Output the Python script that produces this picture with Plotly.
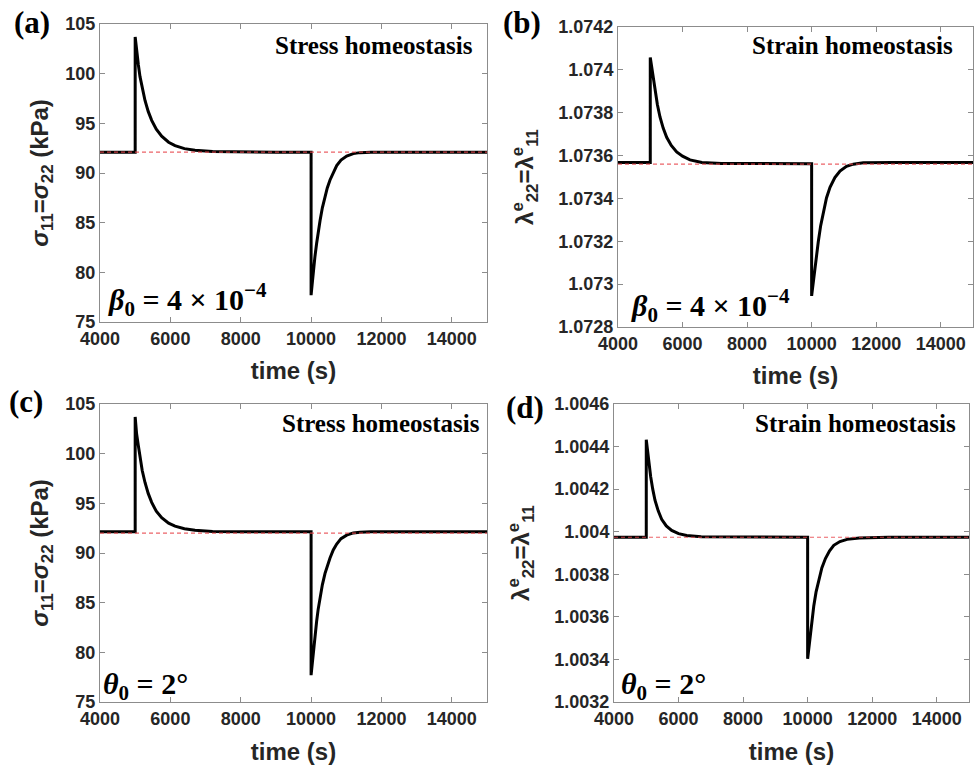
import plotly.graph_objects as go

W, H = 979, 767

# ---------------- data ----------------
# (a) stress homeostasis, beta_0 = 4e-4
t_a = [4000, 5000, 5000, 5040, 5090, 5137, 5200, 5279, 5370, 5469, 5600, 5753, 5950, 6132,
       6400, 6700, 7200, 8000, 9000, 10000, 10000, 10030, 10063, 10110, 10157, 10200, 10254,
       10320, 10396, 10460, 10538, 10630, 10728, 10850, 11012, 11200, 11390, 11700, 12500,
       14000, 15000]
s_a = [92.1, 92.1, 103.7, 102.1, 100.9, 99.7, 98.5, 97.3, 96.2, 95.3, 94.4, 93.7, 93.1, 92.75,
       92.45, 92.28, 92.16, 92.1, 92.1, 92.1, 77.7, 78.8, 80.2, 81.6, 82.9, 84.0, 85.2,
       86.5, 87.7, 88.5, 89.3, 90.1, 90.75, 91.3, 91.7, 91.95, 92.05, 92.1, 92.1,
       92.1, 92.1]
ref_a = 92.1

# (b) strain homeostasis, beta_0 = 4e-4
t_b = [4000, 5000, 5000, 5040, 5074, 5110, 5146, 5220, 5301, 5400, 5508, 5650, 5818, 6000,
       6231, 6600, 7200, 8000, 10000, 10000, 10050, 10103, 10150, 10206, 10280, 10361, 10460,
       10569, 10720, 10879, 11080, 11291, 11600, 12500, 15000]
l_b = [1.073568, 1.073568, 1.074058, 1.074015, 1.073982, 1.073940, 1.073902, 1.073838,
       1.073780, 1.073728, 1.073685, 1.073647, 1.073617, 1.073597, 1.073580, 1.073568,
       1.073563, 1.073562, 1.073562, 1.072945, 1.073010, 1.073075, 1.073135, 1.073198,
       1.073273, 1.073338, 1.073402, 1.073452, 1.073497, 1.073528, 1.073550, 1.073560,
       1.073566, 1.073568, 1.073568]
ref_b = 1.07356

# (c) stress homeostasis, theta_0 = 2 deg
t_c = [4000, 5000, 5000, 5040, 5090, 5137, 5200, 5279, 5370, 5469, 5600, 5753, 5950, 6132,
       6400, 6700, 7200, 8000, 9000, 10000, 10000, 10030, 10063, 10110, 10157, 10200, 10254,
       10320, 10396, 10460, 10538, 10630, 10728, 10850, 11012, 11200, 11390, 11700, 12500,
       14000, 15000]
s_c = [92.14, 92.14, 103.7, 102.0, 100.8, 99.6, 98.3, 97.1, 96.0, 95.1, 94.2, 93.55, 93.0, 92.7,
       92.45, 92.28, 92.17, 92.14, 92.14, 92.14, 77.7, 78.8, 80.3, 81.8, 83.1, 84.3, 85.5,
       86.8, 87.95, 88.7, 89.5, 90.3, 90.9, 91.45, 91.8, 92.02, 92.1, 92.14, 92.14,
       92.14, 92.14]
ref_c = 92.0

# (d) strain homeostasis, theta_0 = 2 deg
t_d = [4000, 5000, 5000, 5030, 5063, 5100, 5137, 5200, 5270, 5370, 5477, 5620, 5787, 6000,
       6252, 6700, 8000, 10000, 10000, 10040, 10085, 10135, 10189, 10260, 10344, 10440, 10551,
       10680, 10810, 11000, 11223, 11600, 12500, 15000]
l_d = [1.003974, 1.003974, 1.004432, 1.004392, 1.004348, 1.004300, 1.004258, 1.004200,
       1.004148, 1.004098, 1.004058, 1.004027, 1.004006, 1.003991, 1.003982, 1.003976,
       1.003974, 1.003974, 1.003403, 1.003460, 1.003525, 1.003590, 1.003650, 1.003716,
       1.003776, 1.003830, 1.003874, 1.003910, 1.003936, 1.003954, 1.003964, 1.003971,
       1.003974, 1.003974]
ref_d = 1.003974

x_range = [4000, 15000]
x_ticks = [4000, 6000, 8000, 10000, 12000, 14000]
y_ticks_stress = [75, 80, 85, 90, 95, 100, 105]
y_ticks_b = [1.0728, 1.0730, 1.0732, 1.0734, 1.0736, 1.0738, 1.0740, 1.0742]
y_text_b = ["1.0728", "1.073", "1.0732", "1.0734", "1.0736", "1.0738", "1.074", "1.0742"]
y_ticks_d = [1.0032, 1.0034, 1.0036, 1.0038, 1.0040, 1.0042, 1.0044, 1.0046]
y_text_d = ["1.0032", "1.0034", "1.0036", "1.0038", "1.004", "1.0042", "1.0044", "1.0046"]

panel_labels = ["(a)", "(b)", "(c)", "(d)"]
titles = ["Stress homeostasis", "Strain homeostasis", "Stress homeostasis", "Strain homeostasis"]
params = ["<i>β</i><sub>0</sub> = 4 × 10<sup>−4</sup>", "<i>β</i><sub>0</sub> = 4 × 10<sup>−4</sup>",
          "<i>θ</i><sub>0</sub> = 2°", "<i>θ</i><sub>0</sub> = 2°"]
ylab_stress = "<i>σ</i><sub>11</sub>=<i>σ</i><sub>22</sub> (kPa)"
ylab_strain = "λ<sup>e</sup><sub>22</sub>=λ<sup>e</sup><sub>11</sub>"

# ---------------- figure ----------------
def fx(px):
    return px / W

def fy(py):
    return 1 - py / H

fig = go.Figure()
series = [(t_a, s_a, ref_a), (t_b, l_b, ref_b), (t_c, s_c, ref_c), (t_d, l_d, ref_d)]
for i, (t, v, r) in enumerate(series):
    sfx = "" if i == 0 else str(i + 1)
    fig.add_trace(go.Scatter(x=t, y=v, mode="lines", line=dict(color="black", width=3),
                             xaxis="x" + sfx, yaxis="y" + sfx))
    fig.add_trace(go.Scatter(x=[x_range[0], x_range[1]], y=[r, r], mode="lines",
                             line=dict(color="rgba(232,71,76,0.85)", width=1.2, dash="4px,3px"),
                             xaxis="x" + sfx, yaxis="y" + sfx, hoverinfo="skip"))

# axes placement in pixels: (left, right, top, bottom)
boxes = [(100, 487, 24, 322), (618, 973, 27, 327), (100, 487, 404, 702), (614, 969, 404, 702)]
y_standoff = [9, 17, 9, 17]
x_standoff = [14, 14, 15, 15]

tick_font = dict(family="Liberation Sans, Arial", size=18, color="#262626", weight="bold")
title_font = dict(family="Liberation Sans, Arial", size=24, color="#262626", weight="bold")
axcol = "#8c8c8c"

def base_axis():
    return dict(showline=True, linecolor=axcol, linewidth=1, mirror="ticks", ticks="inside",
                ticklen=5, tickcolor=axcol, tickwidth=1, showgrid=False, zeroline=False,
                tickfont=tick_font, automargin=False)

y_specs = [
    (y_ticks_stress, [str(v) for v in y_ticks_stress], [75, 105], ylab_stress),
    (y_ticks_b, y_text_b, [1.0728, 1.0742], ylab_strain),
    (y_ticks_stress, [str(v) for v in y_ticks_stress], [75, 105], ylab_stress),
    (y_ticks_d, y_text_d, [1.0032, 1.0046], ylab_strain),
]

layout = dict(width=W, height=H, margin=dict(l=0, r=0, t=0, b=0), paper_bgcolor="white",
              plot_bgcolor="white", showlegend=False)
for i, (l, r, t, b) in enumerate(boxes):
    sfx = "" if i == 0 else str(i + 1)
    xa = base_axis()
    xa.update(domain=[fx(l), fx(r)], range=x_range, tickvals=x_ticks,
              ticktext=[str(v) for v in x_ticks], anchor="y" + sfx,
              title=dict(text="time (s)", font=title_font, standoff=x_standoff[i]))
    ya = base_axis()
    tv, tt, yr, ylab = y_specs[i]
    ya.update(domain=[fy(b), fy(t)], range=yr, tickvals=tv, ticktext=tt, anchor="x" + sfx,
              title=dict(text=ylab, font=title_font, standoff=y_standoff[i]))
    layout["xaxis" + sfx] = xa
    layout["yaxis" + sfx] = ya

fig.update_layout(**layout)

# panel labels, headings and parameter text
label_pos = [(32, 22), (522, 22), (26, 402), (525, 407)]
heading_pos = [(475, 46), (955, 46), (482, 423), (958, 423)]
param_pos = [(106, 300), (629, 305), (101, 686), (619, 686)]
for i in range(4):
    fig.add_annotation(text="<b>%s</b>" % panel_labels[i], x=fx(label_pos[i][0]), y=fy(label_pos[i][1]),
                       xref="paper", yref="paper", showarrow=False, xanchor="center", yanchor="middle",
                       font=dict(family="Liberation Serif, Times New Roman", size=31, color="black"))
    fig.add_annotation(text="<b>%s</b>" % titles[i], x=fx(heading_pos[i][0]), y=fy(heading_pos[i][1]),
                       xref="paper", yref="paper", showarrow=False, xanchor="right", yanchor="middle",
                       font=dict(family="Liberation Serif, Times New Roman", size=25, color="black"))
    fig.add_annotation(text="<b>%s</b>" % params[i], x=fx(param_pos[i][0]), y=fy(param_pos[i][1]),
                       xref="paper", yref="paper", showarrow=False, xanchor="left", yanchor="middle",
                       font=dict(family="Liberation Serif, Times New Roman", size=30, color="black"))

fig.write_html("out.html")
